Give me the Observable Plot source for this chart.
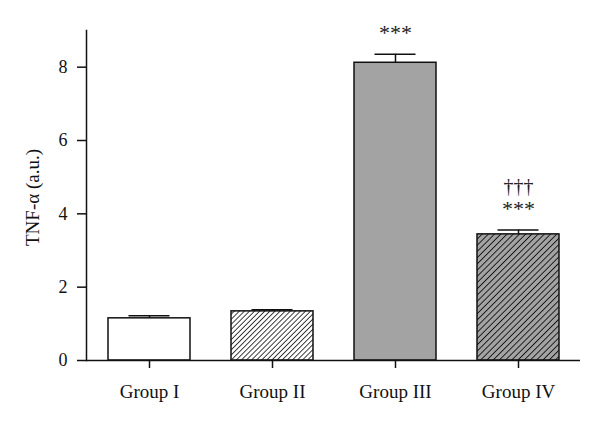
<!DOCTYPE html>
<html>
<head>
<meta charset="utf-8">
<script src="https://cdn.jsdelivr.net/npm/d3@7"></script>
<script src="https://cdn.jsdelivr.net/npm/@observablehq/plot@0.6"></script>
<style>
  html, body { margin: 0; padding: 0; background: #fff; }
  #chart svg { font-family: "Liberation Serif", serif; }
</style>
</head>
<body>
<div id="chart"></div>
<script>
const groups = ["Group I", "Group II", "Group III", "Group IV"];
const means = [1.15, 1.34, 8.12, 3.44];
const errors = [0.07, 0.045, 0.23, 0.12];
const fills = ["white", "url(#hatchWhite)", "#a3a3a3", "url(#hatchGray)"];
const starLabels = ["", "", "***", "***"];
const daggerLabels = ["", "", "", "†††"];
const yTicks = [0, 2, 4, 6, 8];

const data = groups.map((g, i) => ({
  group: g, mean: means[i], err: errors[i], top: means[i] + errors[i],
  fill: fills[i], star: starLabels[i], dagger: daggerLabels[i]
}));

function defs() {
  const ns = "http://www.w3.org/2000/svg";
  const d = document.createElementNS(ns, "defs");
  function pattern(id, bg, size, sw) {
    const p = document.createElementNS(ns, "pattern");
    p.setAttribute("id", id);
    p.setAttribute("patternUnits", "userSpaceOnUse");
    p.setAttribute("width", size);
    p.setAttribute("height", size);
    p.setAttribute("patternTransform", "rotate(45)");
    const r = document.createElementNS(ns, "rect");
    r.setAttribute("width", size); r.setAttribute("height", size);
    r.setAttribute("fill", bg);
    p.appendChild(r);
    const l = document.createElementNS(ns, "line");
    l.setAttribute("x1", 0); l.setAttribute("y1", 0);
    l.setAttribute("x2", 0); l.setAttribute("y2", size);
    l.setAttribute("stroke", "#111");
    l.setAttribute("stroke-width", sw);
    p.appendChild(l);
    d.appendChild(p);
  }
  pattern("hatchWhite", "white", 3.6, 1.6);
  pattern("hatchGray", "#a3a3a3", 4.4, 1.8);
  return d;
}

const chart = Plot.plot({
  width: 600,
  height: 423,
  marginLeft: 86,
  marginRight: 20,
  marginTop: 30,
  marginBottom: 63,
  style: { fontFamily: "Liberation Serif, serif", fontSize: "19px", color: "#111", background: "white" },
  x: { domain: groups, paddingInner: 0.336, paddingOuter: 0.168, label: null },
  y: { domain: [0, 9], label: null },
  marks: [
    defs,
    Plot.barY(data, { x: "group", y: "mean", fill: "fill", stroke: "#111", strokeWidth: 1.5 }),
    Plot.ruleX(data, { x: "group", y1: "mean", y2: "top", stroke: "#111", strokeWidth: 1.5 }),
    Plot.tickY(data, { x: "group", y: "top", stroke: "#111", strokeWidth: 1.5, insetLeft: 20.5, insetRight: 20.5 }),
    Plot.text(data, { x: "group", y: "top", text: "star", dy: -21, fontSize: 22, fill: "#222" }),
    Plot.text(data, { x: "group", y: "top", text: "dagger", dy: -43, fontSize: 20, fill: "#222" }),
    Plot.frame({ anchor: "left", stroke: "#111", strokeWidth: 1.5 }),
    Plot.ruleY([0], { stroke: "#111", strokeWidth: 1.5 }),
    Plot.axisY({ ticks: yTicks, tickSize: 9, tickPadding: 10, tickFormat: d => d, fontSize: 18, strokeWidth: 1.5, label: null }),
    Plot.axisX({ tickSize: 8, tickPadding: 16, fontSize: 19, strokeWidth: 1.5, label: null, style: "letter-spacing: 1px" }),
    Plot.text(["TNF-α (a.u.)"], { frameAnchor: "left", textAnchor: "middle", dx: -54, dy: 2, rotate: -90, fontSize: 19, fill: "#111", text: d => d, style: "letter-spacing: 1px" })
  ]
});
document.getElementById("chart").appendChild(chart);
</script>
</body>
</html>
